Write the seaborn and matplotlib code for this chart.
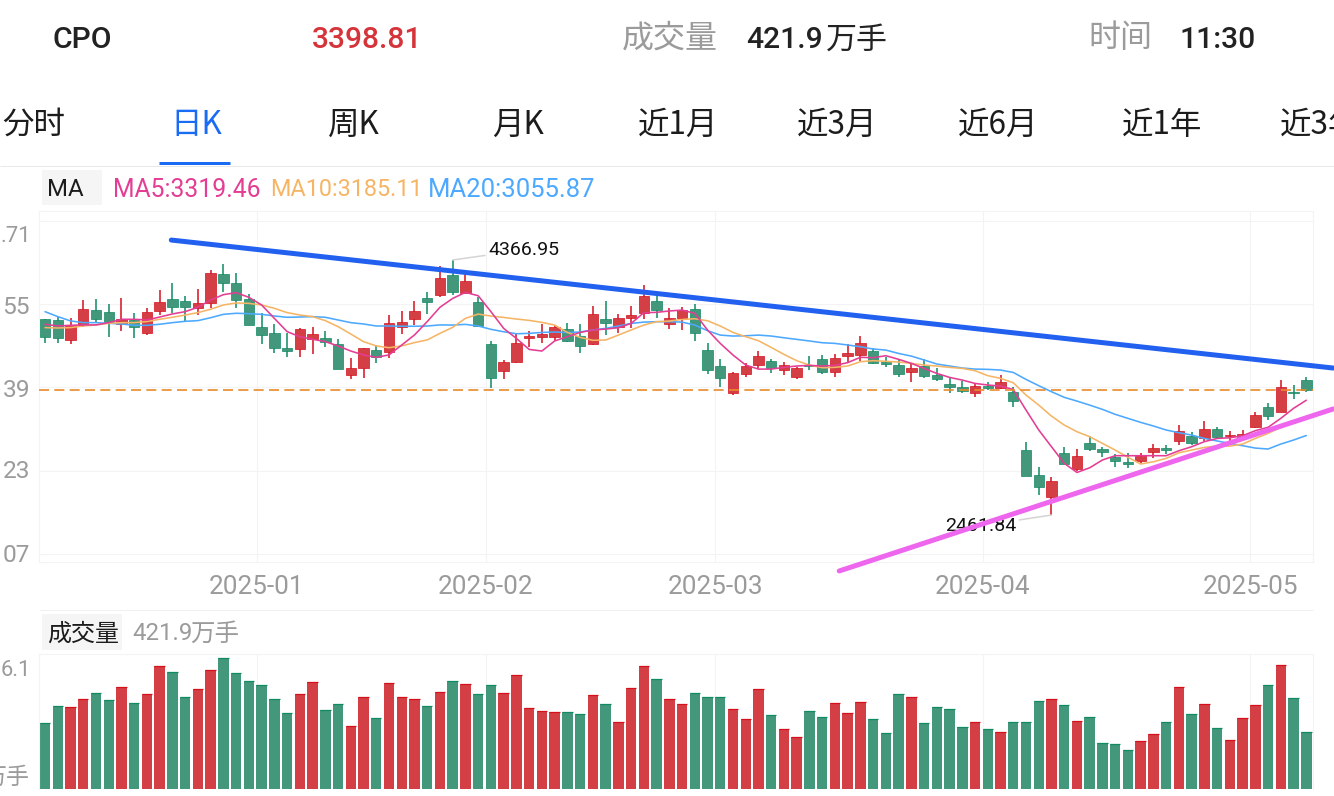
"""
CPO daily K-line screen: candles, MA lines, hand drawn trend lines, volume bars.
"""

import numpy as np
import pandas as pd
import matplotlib
matplotlib.use("Agg")
import matplotlib.pyplot as plt
from matplotlib.lines import Line2D
from matplotlib.patches import Rectangle
import seaborn as sns

W, H = 1334, 796

open_px = [3926, 3919, 3770, 3882, 3994, 3979, 3889, 3919, 3819, 3986,
           4073, 4061, 4006, 4048, 4263, 4198, 4073, 3867, 3824, 3712,
           3705, 3780, 3782, 3740, 3508, 3558, 3695, 3677, 3864, 3926,
           4081, 4106, 4257, 4123, 4055, 3739, 3540, 3607, 3781, 3794,
           3794, 3851, 3799, 3739, 3926, 3869, 3936, 3973, 4060, 3886,
           3931, 4001, 3697, 3577, 3371, 3518, 3582, 3610, 3547, 3495,
           3582, 3625, 3527, 3649, 3657, 3689, 3605, 3580, 3527, 3575,
           3508, 3438, 3420, 3371, 3425, 3413, 3378, 2950, 2758, 2594,
           2925, 2805, 3002, 2957, 2897, 2858, 2865, 2932, 2965, 3017,
           3054, 3034, 3102, 3052, 3047, 3117, 3266, 3234, 3381, 3468]
close_px = [3794, 3782, 3882, 3999, 3924, 3907, 3924, 3864, 3979, 4056,
            4019, 4014, 4043, 4268, 4193, 4068, 3882, 3807, 3710, 3685,
            3854, 3814, 3755, 3553, 3558, 3712, 3640, 3897, 3907, 3989,
            4053, 4230, 4125, 4212, 3874, 3483, 3605, 3744, 3796, 3814,
            3869, 3764, 3724, 3963, 3893, 3931, 3953, 4098, 3993, 3936,
            3993, 3824, 3545, 3485, 3520, 3575, 3652, 3560, 3585, 3557,
            3575, 3532, 3632, 3674, 3749, 3595, 3590, 3513, 3557, 3500,
            3475, 3420, 3391, 3425, 3408, 3458, 3316, 2751, 2673, 2713,
            2843, 2905, 2955, 2935, 2868, 2843, 2900, 2965, 2947, 3089,
            2997, 3102, 3042, 3059, 3064, 3206, 3204, 3420, 3371, 3398.81]
high_px = [3926, 3939, 3931, 4068, 4073, 4036, 4083, 3974, 4009, 4143,
           4198, 4098, 4148, 4292, 4335, 4273, 4113, 3969, 3887, 3819,
           3862, 3869, 3837, 3775, 3633, 3712, 3732, 3956, 3989, 4061,
           4128, 4322, 4366.95, 4267, 4088, 3762, 3620, 3811, 3839, 3886,
           3881, 3898, 3886, 4023, 4063, 3963, 4023, 4177, 4098, 4011,
           4018, 4038, 3744, 3625, 3532, 3600, 3689, 3627, 3607, 3570,
           3649, 3657, 3664, 3737, 3799, 3707, 3644, 3620, 3595, 3625,
           3557, 3488, 3465, 3445, 3458, 3508, 3415, 3010, 2818, 2748,
           2972, 2952, 3054, 2972, 2915, 2922, 2922, 2990, 2985, 3134,
           3082, 3161, 3122, 3089, 3097, 3231, 3296, 3470, 3433, 3490]
low_px = [3750, 3745, 3737, 3869, 3907, 3790, 3839, 3782, 3804, 3956,
          3974, 3914, 3956, 4006, 4126, 4006, 3879, 3740, 3675, 3640,
          3645, 3668, 3720, 3553, 3476, 3486, 3600, 3633, 3812, 3879,
          3964, 4088, 4105, 4118, 3864, 3408, 3478, 3600, 3719, 3744,
          3764, 3757, 3674, 3732, 3806, 3824, 3861, 3923, 3933, 3854,
          3844, 3764, 3515, 3420, 3358, 3490, 3550, 3525, 3508, 3480,
          3545, 3513, 3495, 3607, 3615, 3587, 3570, 3495, 3453, 3483,
          3463, 3371, 3376, 3341, 3395, 3400, 3266, 2751, 2609, 2461.84,
          2840, 2793, 2942, 2895, 2823, 2813, 2843, 2890, 2917, 2985,
          2985, 3017, 3037, 3017, 3022, 3109, 3171, 3231, 3326, 3378]

ma5 = [3887, 3874, 3879, 3882, 3882, 3899, 3924, 3924, 3919, 3941,
       3964, 3981, 4014, 4068, 4108, 4123, 4088, 4031, 3931, 3832,
       3794, 3775, 3757, 3725, 3687, 3658, 3640, 3658, 3732, 3807,
       3907, 4014, 4080, 4125, 4100, 3981, 3856, 3781, 3699, 3687,
       3762, 3794, 3826, 3844, 3851, 3861, 3893, 3973, 3976, 3986,
       3993, 3968, 3844, 3744, 3657, 3582, 3552, 3552, 3565, 3575,
       3580, 3575, 3580, 3600, 3640, 3637, 3652, 3625, 3595, 3557,
       3520, 3490, 3470, 3445, 3433, 3425, 3400, 3246, 3097, 2972,
       2848, 2780, 2815, 2873, 2905, 2905, 2905, 2905, 2905, 2942,
       2972, 3010, 3034, 3039, 3054, 3092, 3117, 3184, 3259, 3319.46]
ma10 = [3862, 3859, 3862, 3874, 3882, 3894, 3899, 3899, 3907, 3924,
        3939, 3956, 3974, 3999, 4031, 4046, 4043, 4031, 4006, 3974,
        3956, 3944, 3914, 3869, 3814, 3757, 3725, 3712, 3725, 3750,
        3770, 3819, 3864, 3931, 3963, 3948, 3938, 3926, 3916, 3901,
        3881, 3826, 3789, 3767, 3769, 3806, 3844, 3881, 3906, 3911,
        3923, 3928, 3913, 3874, 3826, 3794, 3764, 3714, 3662, 3615,
        3582, 3562, 3565, 3575, 3607, 3615, 3610, 3605, 3595, 3582,
        3575, 3565, 3557, 3540, 3503, 3483, 3450, 3358, 3283, 3201,
        3134, 3084, 3047, 2997, 2947, 2893, 2843, 2860, 2885, 2927,
        2947, 2967, 2977, 2977, 2992, 3034, 3072, 3117, 3151, 3185.11]
ma20 = [3981, 3944, 3912, 3899, 3899, 3894, 3889, 3879, 3879, 3887,
        3899, 3909, 3914, 3936, 3961, 3969, 3966, 3961, 3949, 3939,
        3941, 3944, 3939, 3919, 3899, 3889, 3874, 3874, 3872, 3872,
        3874, 3882, 3881, 3886, 3874, 3849, 3831, 3816, 3819, 3826,
        3829, 3826, 3829, 3844, 3856, 3874, 3893, 3903, 3906, 3906,
        3903, 3881, 3839, 3806, 3799, 3801, 3806, 3799, 3786, 3774,
        3762, 3749, 3744, 3732, 3719, 3702, 3694, 3669, 3649, 3620,
        3590, 3575, 3560, 3552, 3550, 3545, 3527, 3475, 3428, 3383,
        3341, 3313, 3283, 3251, 3214, 3184, 3154, 3127, 3097, 3077,
        3059, 3034, 3015, 2997, 2980, 2962, 2955, 2992, 3022, 3055.87]

volume = [489, 620, 610, 667, 712, 665, 756, 642, 709, 918,
          873, 687, 746, 888, 977, 861, 806, 771, 670, 568,
          709, 799, 585, 630, 471, 682, 526, 791, 687, 670,
          618, 724, 801, 781, 709, 771, 717, 846, 603, 580,
          575, 573, 556, 697, 635, 498, 749, 915, 821, 667,
          630, 717, 682, 682, 593, 518, 746, 551, 449, 387,
          583, 533, 637, 563, 647, 523, 414, 704, 682, 491,
          608, 598, 461, 496, 449, 422, 496, 496, 657, 667,
          622, 503, 538, 345, 335, 288, 355, 412, 496, 756,
          556, 630, 456, 365, 526, 622, 774, 920, 680, 421.9]

month_pos = [16.6, 34.6, 52.6, 73.6, 94.6]
month_labels = ["2025-01", "2025-02", "2025-03", "2025-04", "2025-05"]
price_ticks = [4660.71, 4038.55, 3416.39, 2794.23, 2172.07]
last_close = 3398.81
low_mark = 2461.84
high_mark = 4366.95

# hand drawn trend lines, in candle index / price
blue_x = [9.91, 101.1]
blue_y = [4516, 3560]
pink_x = [62.34, 101.1]
pink_y = [2044, 3254]

RED = "#d43f45"
GREEN = "#43977a"
RED_EDGE = "#d4101d"
GREEN_EDGE = "#0f8a63"
GRID = "#f3f3f3"
GREY = "#9b9b9b"
INK = "#1c1c1c"
BLUE = "#1a6cf5"
# only the JP name is registered for the Noto CJK collection here
CJK = "Noto Sans CJK JP"

sns.set_style("white")
plt.rcParams.update({
    "font.family": "Roboto",
    "axes.edgecolor": GRID,
    "axes.linewidth": 0.8,
})

df = pd.DataFrame({
    "idx": np.arange(len(open_px)),
    "open": open_px, "close": close_px, "high": high_px, "low": low_px,
    "ma5": ma5, "ma10": ma10, "ma20": ma20, "volume": volume,
})
df["dir"] = np.where(df["close"] >= df["open"], "up", "down")
colors = df["dir"].map({"up": RED, "down": GREEN})
edges = df["dir"].map({"up": RED_EDGE, "down": GREEN_EDGE})


def fx(x):
    return x / W


def fy(y):
    return 1 - y / H


def px_axes(left, top, right, bottom):
    return fig.add_axes([fx(left), fy(bottom), (right - left) / W, (bottom - top) / H])


def label(x, y, s, size, color=INK, ha="left", **kw):
    fig.text(fx(x), fy(y), s, fontsize=size * 0.72, color=color, ha=ha, va="center", **kw)


def cjk(x, y, s, size, color=INK, ha="left"):
    label(x, y, s, size, color, ha, fontfamily=CJK)


def box(x0, y0, x1, y1, color="#f5f5f5"):
    fig.add_artist(Rectangle((fx(x0), fy(y1)), (x1 - x0) / W, (y1 - y0) / H,
                             transform=fig.transFigure, facecolor=color, edgecolor="none"))


def hline(x0, x1, y, color, width):
    fig.add_artist(Line2D([fx(x0), fx(x1)], [fy(y), fy(y)], transform=fig.transFigure,
                          color=color, linewidth=width * 0.72, solid_capstyle="butt"))


fig = plt.figure(figsize=(W / 100, H / 100), dpi=100, facecolor="white")

# candles
ax = px_axes(39.3, 211, 1313.3, 562)
ax.vlines(df["idx"], df["low"], df["high"], colors=edges, linewidth=1.1, zorder=2)
ax.bar(df["idx"], (df["close"] - df["open"]).abs(), bottom=df[["open", "close"]].min(axis=1),
       width=0.82, color=colors, edgecolor=edges, linewidth=0.5, zorder=3)

for col, c in [("ma20", "#4da9ff"), ("ma10", "#f5b565"), ("ma5", "#e33d94")]:
    sns.lineplot(data=df, x="idx", y=col, color=c, linewidth=1.15, errorbar=None,
                 legend=False, ax=ax, zorder=4)

ax.axhline(last_close, color="#ea8a2c", linewidth=1.2, dashes=(6, 3.2), zorder=5)

ax.annotate(f"{high_mark:.2f}", xy=(32, high_mark), xytext=(25.6, 7.2), textcoords="offset points",
            fontsize=14, color="#111111", va="center", zorder=5,
            arrowprops=dict(arrowstyle="-", color="#d4d4d4", lw=1.1, shrinkA=0, shrinkB=0))
ax.annotate(f"{low_mark:.2f}", xy=(79, low_mark), xytext=(-25.5, -7.8), textcoords="offset points",
            fontsize=14, color="#111111", va="center", ha="right", zorder=5,
            arrowprops=dict(arrowstyle="-", color="#d4d4d4", lw=1.1, shrinkA=0, shrinkB=0))

sns.lineplot(x=blue_x, y=blue_y, color="#2260f0", linewidth=3.6, errorbar=None, ax=ax,
             clip_on=False, zorder=6)
sns.lineplot(x=pink_x, y=pink_y, color="#ee66ee", linewidth=3.6, errorbar=None, ax=ax,
             clip_on=False, zorder=6)

ax.set_xlim(-0.45, 99.55)
ax.set_ylim(2111, 4733)
ax.set_xticks(month_pos, month_labels)
ax.set_yticks(price_ticks, [])
ax.tick_params(axis="x", length=0, pad=9.5, labelsize=18.8, labelcolor=GREY)
ax.tick_params(axis="y", length=0)
ax.grid(True, color=GRID, linewidth=0.8)
ax.set_axisbelow(True)
ax.set_xlabel("")
ax.set_ylabel("")

# volume
ax_vol = px_axes(39.3, 654, 1313.3, 789)
ax_vol.grid(True, axis="x", color=GRID, linewidth=0.8)
ax_vol.set_axisbelow(True)
sns.barplot(data=df, x="idx", y="volume", hue="dir", palette={"up": RED, "down": GREEN},
            native_scale=True, dodge=False, width=0.82, saturation=1, legend=False,
            edgecolor="none", ax=ax_vol)
for patch in ax_vol.patches:
    up = patch.get_facecolor()[0] > 0.5
    ax_vol.plot([patch.get_x(), patch.get_x() + patch.get_width()],
                [patch.get_height()] * 2, color=RED_EDGE if up else GREEN_EDGE, linewidth=0.9,
                solid_capstyle="butt")
ax_vol.set_xlim(-0.45, 99.55)
ax_vol.set_ylim(0, 1004)
ax_vol.set_xticks(month_pos, [])
ax_vol.set_yticks([])
ax_vol.tick_params(length=0)
ax_vol.set_xlabel("")
ax_vol.set_ylabel("")
ax_vol.spines["bottom"].set_visible(False)

# axis labels cut off by the screen edge
label(31, 237, ".71", 22, GREY, ha="right")
for y, s in [(307, "55"), (391, "39"), (472, "23"), (556, "07")]:
    label(30, y, s, 24.5, GREY, ha="right")
label(31, 671, "6.1", 22, GREY, ha="right")
cjk(29, 777, "万手", 23, GREY, ha="right")

# header row
label(53, 40, "CPO", 30, "#222222", fontweight="medium")
label(312, 40, "3398.81", 30, "#d5343a", fontweight="medium")
cjk(622, 39, "成交量", 32, GREY)
label(746, 40, "421.9", 30, "#222222", fontweight="medium")
cjk(826, 40, "万手", 31, "#222222")
cjk(1088, 38, "时间", 32, GREY)
label(1180, 40, "11:30", 30, "#222222", fontweight="medium")

# period tabs
tabs = [(2, "分时"), (170, "日K"), (328, "周K"), (492, "月K"), (638, "近1月"),
        (797, "近3月"), (958, "近6月"), (1122, "近1年"), (1280, "近3年")]
for x, s in tabs:
    cjk(x, 125, s, 31.5, BLUE if s == "日K" else INK)
hline(159, 230, 163, BLUE, 3)
hline(0, W, 165.5, "#e8e8e8", 1)

# indicator legend rows
box(42, 170, 102, 205)
label(47, 190, "MA", 24, INK)
label(113, 190, "MA5:3319.46", 24.8, "#e33d94")
label(270, 190, "MA10:3185.11", 23.4, "#f5b565")
label(428, 190, "MA20:3055.87", 25.6, "#4da9ff")

hline(39, 1313, 610, "#f0f0f0", 1)
box(42, 614, 122, 650)
cjk(47, 634, "成交量", 24, INK)
label(132, 634, "421.9", 24, GREY)
cjk(190, 634, "万手", 24.5, GREY)

fig.savefig("out.png", dpi=100, facecolor="white")
